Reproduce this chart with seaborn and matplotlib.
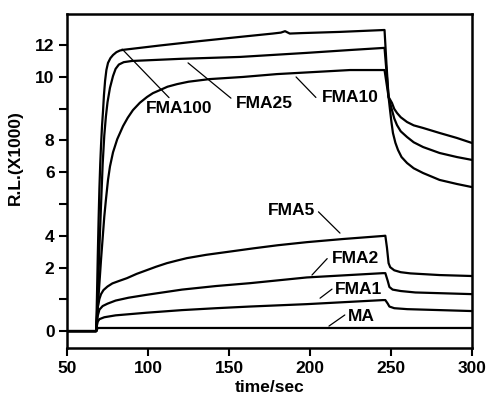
import numpy as np
import pandas as pd
import matplotlib
matplotlib.use("Agg")
import matplotlib.pyplot as plt
import seaborn as sns

# =========================
# Readings from the figure: time (s) vs R.L. (x1000)
# =========================
t_fma100 = [50, 68, 68.5, 69, 69.5, 70, 70.5, 71, 71.6, 72.2, 72.8, 73.5, 74.3, 75.3, 76.8, 78.4, 80.5, 82.7,
            85, 90, 107.4, 130, 156.8, 177, 182, 184.6, 187.5, 195, 218.5, 246,
            247.2, 248.5, 250.6, 252, 253.7, 256, 259.9, 264, 269.8, 280, 290.7, 300]
rl_fma100 = [0, 0, 1.5, 3.2, 4.7, 6.0, 7.0, 7.8, 8.6, 9.2, 9.9, 10.5, 10.95, 11.25, 11.45, 11.58, 11.7, 11.77,
             11.8, 11.84, 11.98, 12.15, 12.34, 12.48, 12.52, 12.58, 12.48, 12.5, 12.55, 12.63,
             11.2, 9.82, 9.57, 9.32, 9.15, 8.97, 8.77, 8.63, 8.52, 8.31, 8.1, 7.89]

t_fma25 = [50, 68, 69, 70, 71, 72, 73, 74, 75, 76.5, 78.4, 80, 82, 85, 90, 120, 156.8, 198, 224.7, 246,
           248.5, 250.6, 252, 253.7, 256, 259.9, 264, 269.8, 280, 290.7, 300]
rl_fma25 = [0, 0, 1.5, 3.5, 5.3, 7.0, 8.2, 9.0, 9.6, 10.2, 10.7, 11.0, 11.18, 11.28, 11.33, 11.42, 11.5, 11.67,
            11.79, 11.88, 9.82, 9.27, 8.92, 8.64, 8.38, 8.14, 7.92, 7.72, 7.47, 7.3, 7.18]

t_fma10 = [50, 68, 69, 70, 71, 72, 73, 74, 75.3, 76.5, 78.4, 81, 84.6, 87.5, 90.7, 95, 99.4, 103, 107.4, 112,
           118, 125, 138, 158.6, 179.6, 224.7, 246,
           248.5, 249.4, 250.3, 251.2, 252.7, 254.3, 256.5, 259.9, 264, 269.8, 280, 290.7, 300]
rl_fma10 = [0, 0, 1.0, 2.0, 3.0, 3.9, 4.8, 5.5, 6.34, 6.9, 7.5, 8.05, 8.6, 8.95, 9.27, 9.58, 9.82, 9.98, 10.11,
            10.25, 10.36, 10.46, 10.57, 10.66, 10.78, 10.95, 10.95,
            9.82, 9.27, 8.75, 8.31, 7.9, 7.6, 7.3, 7.05, 6.83, 6.63, 6.34, 6.17, 6.04]

t_fma5 = [50, 68, 68.5, 69, 70, 71, 72.5, 75, 78, 82, 87, 93, 99.4, 105, 111.7, 118, 124, 136, 150, 165, 180,
          198, 220, 245, 246.5, 247.5, 248.5, 249.5, 252, 256, 262, 280, 300]
rl_fma5 = [0, 0, 0.6, 1.0, 1.35, 1.55, 1.72, 1.87, 2.0, 2.1, 2.22, 2.4, 2.56, 2.7, 2.85, 2.96, 3.06, 3.2, 3.33,
           3.47, 3.6, 3.73, 3.86, 3.99, 4.0, 3.5, 2.85, 2.68, 2.55, 2.47, 2.42, 2.35, 2.31]

t_fma2 = [50, 68, 68.5, 69, 70, 72, 75, 80, 88, 99, 110, 121, 142, 163, 198, 245, 246.5, 248, 249, 251, 256,
          265, 300]
rl_fma2 = [0, 0, 0.4, 0.65, 0.9, 1.05, 1.15, 1.28, 1.4, 1.52, 1.63, 1.74, 1.89, 2.01, 2.25, 2.43, 2.43, 2.1,
           1.85, 1.74, 1.68, 1.62, 1.55]

t_fma1 = [50, 68, 68.5, 69, 70, 73, 80, 99, 121, 142, 163, 198, 245, 246.5, 248, 249, 252, 260, 280, 300]
rl_fma1 = [0, 0, 0.25, 0.4, 0.5, 0.58, 0.66, 0.77, 0.88, 0.96, 1.03, 1.13, 1.30, 1.30, 1.15, 1.03, 0.96, 0.92,
           0.88, 0.84]

t_ma = [50, 68, 69, 300]
rl_ma = [0, 0, 0.13, 0.13]

names = ['FMA100', 'FMA25', 'FMA10', 'FMA5', 'FMA2', 'FMA1', 'MA']

# label text centres and the curve point each leader line touches
label_t = [119.4, 171.6, 224.7, 188.6, 228.1, 230.2, 231.8]
label_rl = [9.34, 9.55, 9.80, 5.04, 3.04, 1.76, 0.63]
point_t = [84.0, 124.7, 191.4, 218.5, 201.2, 206.2, 211.7]
point_rl = [11.83, 11.25, 10.66, 4.11, 2.35, 1.38, 0.21]
leader_rel = [(0.38, 1.05), (-0.08, 0.85), (-0.1, 0.5), (1.05, 0.5), (-0.1, 0.5), (-0.07, 0.5), (-0.1, 0.6)]

xticks = [50, 100, 150, 200, 250, 300]
ytick_labels = ['0', '', '2', '4', '', '6', '8', '', '10', '12']

series = [(t_fma100, rl_fma100), (t_fma25, rl_fma25), (t_fma10, rl_fma10), (t_fma5, rl_fma5),
          (t_fma2, rl_fma2), (t_fma1, rl_fma1), (t_ma, rl_ma)]
df = pd.concat([pd.DataFrame({'time': t, 'rl': v, 'sample': n}) for n, (t, v) in zip(names, series)])

# =========================
# Plot
# =========================
sns.set_style("ticks")
plt.rcParams['font.family'] = ['Liberation Sans', 'DejaVu Sans']
plt.rcParams['font.weight'] = 'bold'
plt.rcParams['text.color'] = 'black'
plt.rcParams['axes.labelcolor'] = 'black'

fig = plt.figure(figsize=(4.86, 3.97), dpi=100)
ax = fig.add_axes([0.1379, 0.1234, 0.8333, 0.8413])

sns.lineplot(data=df, x='time', y='rl', hue='sample', units='sample', estimator=None, sort=False,
             palette={n: 'black' for n in names}, legend=False, lw=1.6, ax=ax)

for name, lt, lr, pt, pr, rel in zip(names, label_t, label_rl, point_t, point_rl, leader_rel):
    ax.annotate(name, xy=(pt, pr), xytext=(lt, lr), ha='center', va='center',
                fontsize=12.5, fontweight='bold', color='black',
                arrowprops=dict(arrowstyle='-', color='black', lw=0.9, shrinkA=0, shrinkB=0, relpos=rel))

ax.set_xlim(50, 300)
ax.set_ylim(-0.71, 13.3)
ax.set_xticks(xticks)
ax.set_yticks(np.linspace(0, 12, len(ytick_labels)))
ax.set_yticklabels(ytick_labels)
ax.tick_params(direction='out', length=6, width=1.5, labelsize=12.5, pad=3, colors='black')

for s in ax.spines.values():
    s.set_linewidth(1.8)
    s.set_color('black')

ax.set_xlabel('time/sec', fontsize=12.5, fontweight='bold', labelpad=3, color='black')
ax.set_ylabel('R.L.(X1000)', fontsize=12.5, fontweight='bold', color='black')
ax.yaxis.set_label_coords(-0.109, 0.569)

fig.savefig('out.png', dpi=100)
